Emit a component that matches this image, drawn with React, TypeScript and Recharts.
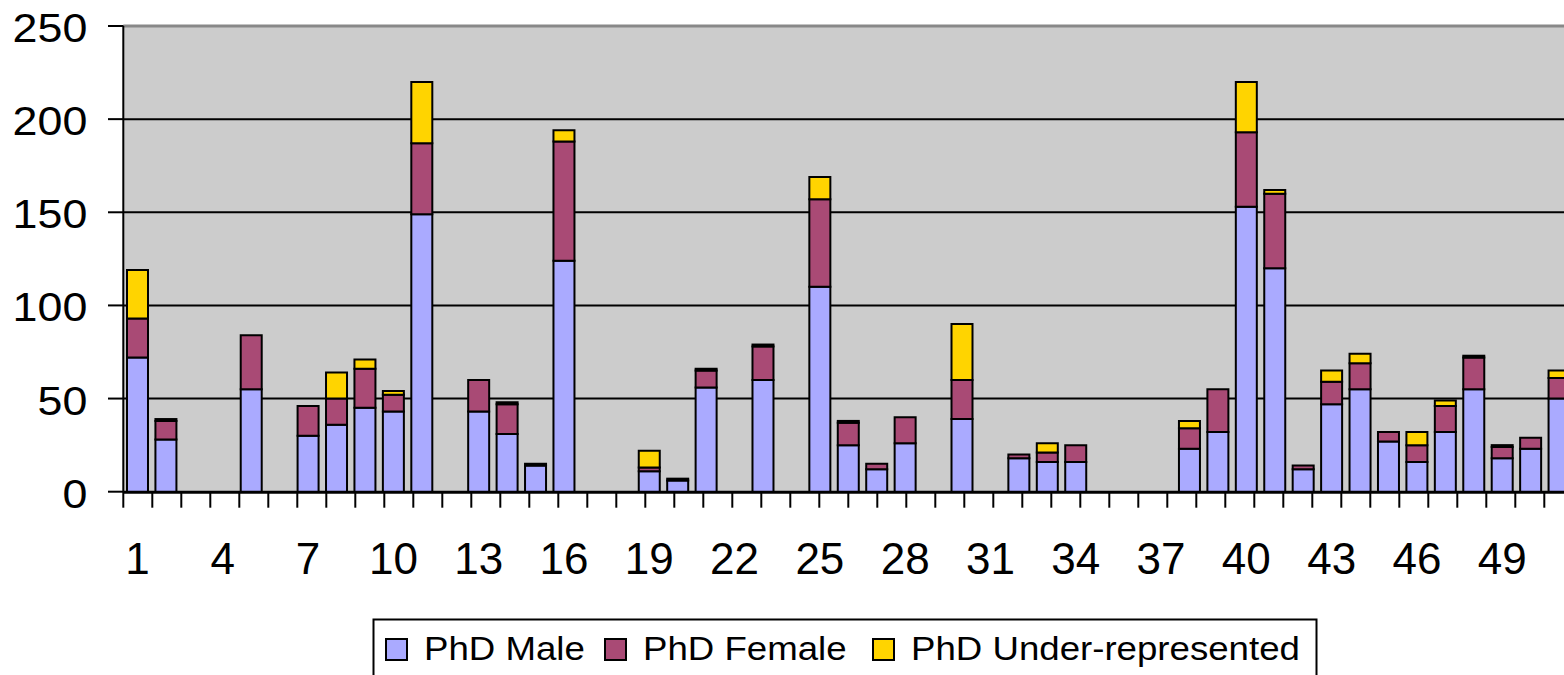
import React from "react";
import { BarChart, Bar, XAxis, YAxis, CartesianGrid, ReferenceLine } from "recharts";

const categories = [
  "1","2","3","4","5","6","7","8","9","10","11","12","13","14","15","16","17","18","19","20",
  "21","22","23","24","25","26","27","28","29","30","31","32","33","34","35","36","37","38","39","40",
  "41","42","43","44","45","46","47","48","49","50","51",
];
const phdMale = [
  72, 28, 0, 0, 55, 0, 30, 36, 45, 43, 149, 0, 43, 31, 14, 124, 0, 0, 11, 6,
  56, 0, 60, 0, 110, 25, 12, 26, 0, 39, 0, 18, 16, 16, 0, 0, 0, 23, 32, 153,
  120, 12, 47, 55, 27, 16, 32, 55, 18, 23, 50,
];
const phdFemale = [
  21, 10, 0, 0, 29, 0, 16, 14, 21, 9, 38, 0, 17, 16, 1, 64, 0, 0, 2, 0,
  9, 0, 18, 0, 47, 12, 3, 14, 0, 21, 0, 2, 5, 9, 0, 0, 0, 11, 23, 40,
  40, 2, 12, 14, 5, 9, 14, 17, 6, 6, 11,
];
const phdUnder = [
  26, 1, 0, 0, 0, 0, 0, 14, 5, 2, 33, 0, 0, 1, 0, 6, 0, 0, 9, 1,
  1, 0, 1, 0, 12, 1, 0, 0, 0, 30, 0, 0, 5, 0, 0, 0, 0, 4, 0, 27,
  2, 0, 6, 5, 0, 7, 3, 1, 1, 0, 4,
];
const yTicks = [0, 50, 100, 150, 200, 250];
const seriesNames = ["PhD Male", "PhD Female", "PhD Under-represented"];
const seriesColors = ["#AAAAFF", "#A94A75", "#FFD400"];

const data = categories.map((c, i) => ({
  cat: c,
  male: phdMale[i],
  female: phdFemale[i],
  under: phdUnder[i],
}));
const edgeTicks = Array.from({ length: categories.length + 1 }, (_, i) => i);

const FONT = "Arial, 'Liberation Sans', sans-serif";

const YTick = (props: any) => {
  const { x, y, payload } = props;
  return (
    <g>
      <line x1={108} x2={123.3} y1={y} y2={y} stroke="#000" strokeWidth={2} />
      <text
        transform={`translate(${x},${y + 16}) scale(1.12,1)`}
        textAnchor="end"
        fontFamily={FONT}
        fontSize={40}
        fill="#000"
      >
        {payload.value}
      </text>
    </g>
  );
};

const XTick = (props: any) => {
  const { x, y, payload } = props;
  return (
    <text x={x} y={y + 82} textAnchor="middle" fontFamily={FONT} fontSize={44} fill="#000">
      {payload.value}
    </text>
  );
};

const EdgeTick = (props: any) => {
  const { x, y } = props;
  return <line x1={x} x2={x} y1={y - 1} y2={y + 15} stroke="#000" strokeWidth={2} />;
};

const Legend = () => {
  const squares = [386, 605, 873];
  const texts = [424, 643, 911];
  return (
    <svg
      width={1564}
      height={675}
      style={{ position: "absolute", left: 0, top: 0, pointerEvents: "none" }}
    >
      <rect x={373.5} y={619.5} width={943} height={70} fill="#fff" stroke="#000" strokeWidth={2} />
      {seriesNames.map((n, i) => (
        <g key={n}>
          <rect x={squares[i]} y={639} width={21} height={21} fill={seriesColors[i]} stroke="#000" strokeWidth={2} />
          <text
            transform={`translate(${texts[i]},660) scale(1.094,1)`}
            fontFamily={FONT}
            fontSize={33.5}
            fill="#000"
          >
            {n}
          </text>
        </g>
      ))}
    </svg>
  );
};

export default function App() {
  return (
    <div
      style={{
        position: "absolute",
        left: 0,
        top: 0,
        width: 1564,
        height: 675,
        overflow: "hidden",
        background: "#fff",
      }}
    >
      <BarChart
        width={1600}
        height={675}
        data={data}
        margin={{ top: 26, right: 26.7, left: 0, bottom: 181.3 }}
        barCategoryGap="13%"
      >
        <CartesianGrid vertical={false} fill="#CCCCCC" stroke="#000" strokeWidth={2} />
        <XAxis
          xAxisId="edge"
          type="number"
          domain={[0, categories.length]}
          ticks={edgeTicks}
          allowDataOverflow
          height={1}
          stroke="#000"
          tickSize={0}
          tickMargin={0}
          tickLine={false}
          tick={EdgeTick}
          axisLine={{ stroke: "#000", strokeWidth: 2 }}
        />
        <XAxis
          dataKey="cat"
          interval={2}
          height={1}
          tickSize={0}
          tickMargin={0}
          axisLine={false}
          tickLine={false}
          tick={XTick}
        />
        <YAxis
          domain={[0, 250]}
          ticks={yTicks}
          width={123.3}
          stroke="#000"
          tickSize={15}
          tickMargin={21}
          tickLine={false}
          tick={YTick}
          axisLine={{ stroke: "#000", strokeWidth: 2 }}
        />
        <ReferenceLine y={250} stroke="#888888" strokeWidth={3} />
        <Bar dataKey="male" name={seriesNames[0]} stackId="a" fill={seriesColors[0]} stroke="#000" strokeWidth={2} isAnimationActive={false} />
        <Bar dataKey="female" name={seriesNames[1]} stackId="a" fill={seriesColors[1]} stroke="#000" strokeWidth={2} isAnimationActive={false} />
        <Bar dataKey="under" name={seriesNames[2]} stackId="a" fill={seriesColors[2]} stroke="#000" strokeWidth={2} isAnimationActive={false} />
      </BarChart>
      <Legend />
    </div>
  );
}
